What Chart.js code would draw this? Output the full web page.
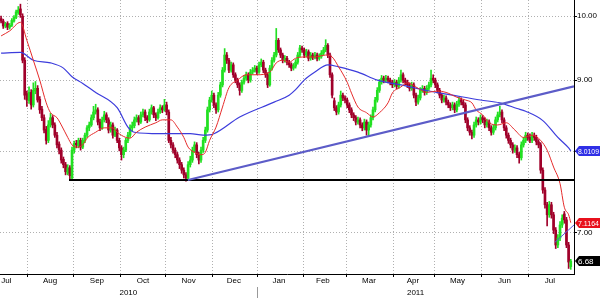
<!DOCTYPE html>
<html>
<head>
<meta charset="utf-8">
<script src="https://cdn.jsdelivr.net/npm/chart.js@4.4.1/dist/chart.umd.min.js"></script>
<style>
  html, body { margin: 0; padding: 0; background: #fff; }
</style>
</head>
<body>
<canvas id="chart" width="600" height="300"></canvas>
<script>
// daily candles, Jul 2010 .. Jul 2011 (index = trading day)
const opens = [
  9.96, 9.92, 9.84, 9.88, 9.82, 9.85, 9.92, 9.98, 10.06, 10.12,
  10.00, 9.30, 8.80, 8.70, 8.82, 8.64, 8.84, 8.88, 8.72, 8.58,
  8.46, 8.30, 8.15, 8.36, 8.46, 8.36, 8.22, 8.10, 8.02, 7.90,
  7.83, 7.72, 7.79, 7.66, 8.02, 8.11, 8.08, 8.15, 8.06, 8.15,
  8.22, 8.32, 8.36, 8.46, 8.54, 8.57, 8.40, 8.32, 8.43, 8.50,
  8.43, 8.29, 8.36, 8.22, 8.29, 8.15, 8.05, 7.96, 8.02, 8.15,
  8.22, 8.32, 8.35, 8.43, 8.46, 8.40, 8.50, 8.54, 8.46, 8.43,
  8.54, 8.60, 8.50, 8.46, 8.54, 8.60, 8.57, 8.64, 8.54, 8.15,
  8.09, 8.02, 7.96, 7.89, 7.83, 7.76, 7.70, 7.66, 7.83, 7.89,
  8.02, 8.09, 7.96, 7.89, 8.02, 8.15, 8.29, 8.57, 8.71, 8.78,
  8.64, 8.57, 8.78, 8.93, 9.15, 9.38, 9.30, 9.15, 9.23, 9.08,
  9.00, 8.93, 8.85, 8.97, 9.03, 9.08, 9.00, 9.12, 9.15, 9.18,
  9.12, 9.23, 9.27, 9.15, 9.08, 8.93, 9.18, 9.30, 9.38, 9.61,
  9.46, 9.38, 9.30, 9.33, 9.27, 9.23, 9.18, 9.21, 9.27, 9.38,
  9.49, 9.46, 9.38, 9.43, 9.33, 9.38, 9.35, 9.38, 9.33, 9.36,
  9.41, 9.46, 9.53, 9.38, 9.08, 8.70, 8.60, 8.54, 8.64, 8.78,
  8.74, 8.71, 8.64, 8.57, 8.50, 8.46, 8.40, 8.43, 8.36, 8.32,
  8.40, 8.29, 8.36, 8.46, 8.57, 8.71, 8.85, 8.97, 9.03, 9.00,
  9.03, 9.00, 8.97, 8.93, 8.97, 8.91, 9.00, 9.08, 9.00, 8.97,
  8.93, 8.88, 8.93, 8.78, 8.68, 8.74, 8.85, 8.88, 8.82, 8.88,
  8.93, 9.03, 9.00, 8.93, 8.85, 8.78, 8.71, 8.74, 8.68, 8.64,
  8.60, 8.64, 8.57, 8.65, 8.71, 8.68, 8.64, 8.43, 8.32, 8.26,
  8.22, 8.36, 8.43, 8.40, 8.46, 8.43, 8.36, 8.40, 8.32, 8.26,
  8.32, 8.43, 8.50, 8.54, 8.43, 8.32, 8.22, 8.15, 8.09, 8.02,
  8.05, 7.96, 7.92, 8.09, 8.15, 8.22, 8.19, 8.15, 8.22, 8.19,
  8.13, 8.09, 7.76, 7.51, 7.33, 7.21, 7.33, 7.21, 7.03, 6.86,
  6.94, 7.09, 7.22, 7.15, 6.86, 6.62
];
const highs = [
  10.00, 9.95, 9.90, 9.91, 9.88, 9.96, 10.01, 10.10, 10.16, 10.20,
  10.04, 9.34, 8.84, 8.90, 8.86, 8.96, 8.98, 8.92, 8.76, 8.62,
  8.50, 8.34, 8.42, 8.52, 8.49, 8.39, 8.26, 8.13, 8.05, 7.93,
  7.86, 7.83, 7.82, 8.06, 8.14, 8.15, 8.18, 8.18, 8.18, 8.25,
  8.35, 8.40, 8.50, 8.62, 8.65, 8.60, 8.44, 8.47, 8.55, 8.53,
  8.46, 8.40, 8.39, 8.33, 8.31, 8.18, 8.08, 8.06, 8.18, 8.26,
  8.36, 8.40, 8.47, 8.50, 8.49, 8.54, 8.58, 8.57, 8.49, 8.58,
  8.64, 8.62, 8.53, 8.58, 8.64, 8.63, 8.72, 8.68, 8.57, 8.19,
  8.12, 8.05, 7.99, 7.92, 7.86, 7.79, 7.73, 7.87, 7.94, 8.06,
  8.13, 8.12, 7.99, 8.06, 8.19, 8.33, 8.61, 8.75, 8.84, 8.81,
  8.67, 8.82, 8.97, 9.19, 9.48, 9.42, 9.33, 9.27, 9.26, 9.11,
  9.03, 8.96, 9.00, 9.07, 9.12, 9.11, 9.16, 9.19, 9.22, 9.21,
  9.27, 9.32, 9.30, 9.18, 9.11, 9.22, 9.34, 9.42, 9.80, 9.64,
  9.49, 9.41, 9.37, 9.36, 9.30, 9.26, 9.25, 9.31, 9.42, 9.53,
  9.52, 9.49, 9.47, 9.46, 9.42, 9.41, 9.42, 9.41, 9.40, 9.45,
  9.50, 9.62, 9.56, 9.41, 9.11, 8.74, 8.63, 8.68, 8.84, 8.81,
  8.77, 8.74, 8.67, 8.60, 8.53, 8.49, 8.47, 8.46, 8.39, 8.44,
  8.43, 8.40, 8.50, 8.61, 8.75, 8.89, 9.01, 9.07, 9.06, 9.07,
  9.06, 9.03, 9.00, 9.01, 9.00, 9.04, 9.15, 9.11, 9.03, 9.00,
  8.96, 8.97, 8.96, 8.81, 8.78, 8.89, 8.92, 8.91, 8.92, 8.97,
  9.15, 9.08, 9.03, 8.96, 8.88, 8.81, 8.78, 8.77, 8.71, 8.67,
  8.68, 8.67, 8.69, 8.75, 8.74, 8.71, 8.67, 8.46, 8.35, 8.29,
  8.40, 8.47, 8.46, 8.50, 8.49, 8.46, 8.44, 8.43, 8.35, 8.36,
  8.47, 8.54, 8.62, 8.57, 8.46, 8.35, 8.25, 8.18, 8.12, 8.09,
  8.08, 7.99, 8.13, 8.19, 8.26, 8.25, 8.24, 8.26, 8.25, 8.22,
  8.16, 8.12, 7.79, 7.54, 7.36, 7.37, 7.36, 7.24, 7.06, 6.98,
  7.13, 7.21, 7.25, 7.18, 6.89, 6.70
];
const lows = [
  9.89, 9.80, 9.81, 9.78, 9.79, 9.83, 9.90, 9.96, 10.03, 9.98,
  9.26, 8.72, 8.62, 8.66, 8.58, 8.61, 8.80, 8.68, 8.52, 8.42,
  8.25, 8.10, 8.12, 8.33, 8.32, 8.19, 8.05, 7.97, 7.85, 7.79,
  7.70, 7.70, 7.63, 7.63, 7.98, 8.05, 8.05, 8.02, 8.04, 8.12,
  8.19, 8.28, 8.34, 8.43, 8.51, 8.36, 8.28, 8.30, 8.40, 8.39,
  8.25, 8.26, 8.18, 8.20, 8.12, 8.01, 7.89, 7.92, 8.00, 8.12,
  8.19, 8.28, 8.32, 8.40, 8.36, 8.38, 8.47, 8.42, 8.39, 8.41,
  8.51, 8.46, 8.42, 8.44, 8.52, 8.53, 8.55, 8.50, 8.12, 8.05,
  7.98, 7.92, 7.85, 7.78, 7.72, 7.66, 7.62, 7.64, 7.80, 7.86,
  7.99, 7.92, 7.84, 7.86, 7.99, 8.12, 8.26, 8.54, 8.68, 8.60,
  8.52, 8.54, 8.75, 8.90, 9.12, 9.25, 9.11, 9.12, 9.04, 8.96,
  8.89, 8.78, 8.82, 8.94, 9.00, 8.96, 8.97, 9.09, 9.12, 9.08,
  9.10, 9.20, 9.11, 9.04, 8.89, 8.91, 9.15, 9.27, 9.35, 9.42,
  9.34, 9.26, 9.27, 9.23, 9.19, 9.14, 9.15, 9.18, 9.24, 9.35,
  9.42, 9.34, 9.35, 9.29, 9.30, 9.31, 9.32, 9.29, 9.30, 9.33,
  9.38, 9.43, 9.34, 9.04, 8.74, 8.56, 8.50, 8.51, 8.61, 8.70,
  8.67, 8.60, 8.53, 8.46, 8.42, 8.36, 8.37, 8.32, 8.28, 8.29,
  8.22, 8.20, 8.33, 8.43, 8.54, 8.68, 8.82, 8.94, 8.96, 8.97,
  8.96, 8.93, 8.89, 8.90, 8.87, 8.88, 8.97, 8.96, 8.93, 8.89,
  8.84, 8.85, 8.74, 8.63, 8.65, 8.71, 8.82, 8.78, 8.79, 8.85,
  8.90, 8.96, 8.89, 8.81, 8.74, 8.67, 8.68, 8.64, 8.60, 8.56,
  8.57, 8.53, 8.54, 8.62, 8.64, 8.60, 8.39, 8.28, 8.22, 8.17,
  8.19, 8.33, 8.36, 8.37, 8.39, 8.32, 8.33, 8.28, 8.22, 8.23,
  8.29, 8.40, 8.47, 8.39, 8.28, 8.18, 8.11, 8.05, 7.98, 7.99,
  7.92, 7.85, 7.89, 8.06, 8.12, 8.15, 8.12, 8.12, 8.15, 8.09,
  8.05, 7.72, 7.47, 7.29, 7.08, 7.18, 7.17, 6.99, 6.82, 6.83,
  6.91, 7.06, 7.11, 6.83, 6.60, 6.59
];
const closes = [
  9.92, 9.84, 9.87, 9.82, 9.85, 9.93, 9.98, 10.07, 10.10, 10.02,
  9.30, 8.78, 8.71, 8.82, 8.64, 8.85, 8.88, 8.71, 8.57, 8.46,
  8.29, 8.15, 8.36, 8.46, 8.36, 8.22, 8.09, 8.02, 7.89, 7.83,
  7.74, 7.79, 7.69, 8.02, 8.11, 8.09, 8.15, 8.06, 8.15, 8.22,
  8.32, 8.36, 8.46, 8.54, 8.57, 8.40, 8.32, 8.43, 8.50, 8.43,
  8.29, 8.36, 8.22, 8.29, 8.15, 8.05, 7.96, 8.02, 8.15, 8.22,
  8.32, 8.35, 8.43, 8.46, 8.40, 8.50, 8.54, 8.46, 8.43, 8.54,
  8.60, 8.50, 8.46, 8.54, 8.60, 8.57, 8.64, 8.54, 8.15, 8.09,
  8.02, 7.96, 7.89, 7.83, 7.76, 7.70, 7.66, 7.83, 7.89, 8.02,
  8.09, 7.96, 7.89, 8.02, 8.15, 8.29, 8.57, 8.71, 8.78, 8.64,
  8.57, 8.78, 8.93, 9.15, 9.38, 9.30, 9.15, 9.23, 9.08, 9.00,
  8.93, 8.85, 8.97, 9.03, 9.08, 9.00, 9.12, 9.15, 9.18, 9.12,
  9.23, 9.27, 9.15, 9.08, 8.93, 9.18, 9.30, 9.38, 9.61, 9.46,
  9.38, 9.30, 9.33, 9.27, 9.23, 9.18, 9.21, 9.27, 9.38, 9.49,
  9.46, 9.38, 9.43, 9.33, 9.38, 9.35, 9.38, 9.33, 9.36, 9.41,
  9.46, 9.53, 9.38, 9.08, 8.78, 8.60, 8.54, 8.64, 8.78, 8.74,
  8.71, 8.64, 8.57, 8.50, 8.46, 8.40, 8.43, 8.36, 8.32, 8.40,
  8.29, 8.36, 8.46, 8.57, 8.71, 8.85, 8.97, 9.03, 9.00, 9.03,
  9.00, 8.97, 8.93, 8.97, 8.91, 9.00, 9.08, 9.00, 8.97, 8.93,
  8.88, 8.93, 8.78, 8.68, 8.74, 8.85, 8.88, 8.82, 8.88, 8.93,
  9.03, 9.00, 8.93, 8.85, 8.78, 8.71, 8.74, 8.68, 8.64, 8.60,
  8.64, 8.57, 8.65, 8.71, 8.68, 8.64, 8.43, 8.32, 8.26, 8.22,
  8.36, 8.43, 8.40, 8.46, 8.43, 8.36, 8.40, 8.32, 8.26, 8.32,
  8.43, 8.50, 8.54, 8.43, 8.32, 8.22, 8.15, 8.09, 8.02, 8.05,
  7.96, 7.92, 8.09, 8.15, 8.22, 8.19, 8.15, 8.22, 8.19, 8.13,
  8.09, 7.76, 7.51, 7.33, 7.21, 7.33, 7.21, 7.03, 6.86, 6.94,
  7.09, 7.17, 7.15, 6.86, 6.67, 6.68
];

// moving averages (day index, value)
const redMaIdx = [0, 4, 9, 12, 15, 18, 21, 23, 26, 28, 31, 33, 35, 38, 40, 44, 48, 52, 54, 58,
  60, 63, 67, 72, 75, 79, 82, 85, 87, 90, 93, 95, 97, 100, 103, 106, 110, 114, 119, 125,
  128, 131, 134, 137, 141, 146, 151, 154, 157, 161, 163, 166, 170, 173, 176, 180, 182, 186, 189, 194,
  198, 203, 207, 212, 216, 219, 221, 224, 227, 231, 235, 239, 243, 247, 251, 254, 257, 260, 262, 264, 265];
const redMaVal = [9.68, 9.76, 9.90, 9.61, 9.30, 9.00, 8.67, 8.53, 8.46, 8.36, 8.19, 8.09, 8.06, 8.09, 8.18, 8.26, 8.32, 8.32, 8.26, 8.19,
  8.18, 8.26, 8.33, 8.39, 8.43, 8.43, 8.33, 8.19, 8.06, 7.99, 7.96, 7.99, 8.15, 8.33, 8.61, 8.89, 9.00, 9.08, 9.08, 9.12,
  9.26, 9.30, 9.27, 9.33, 9.35, 9.35, 9.38, 9.35, 9.20, 8.97, 8.81, 8.61, 8.53, 8.47, 8.53, 8.67, 8.81, 8.90, 8.96, 8.88,
  8.82, 8.84, 8.82, 8.75, 8.71, 8.67, 8.57, 8.50, 8.39, 8.36, 8.39, 8.29, 8.19, 8.22, 8.15, 8.02, 7.80, 7.59, 7.30, 7.21, 7.1164];
const blueMaIdx = [0, 9, 15, 23, 29, 33, 38, 44, 54, 59, 62, 74, 88, 94, 99, 111, 127, 134, 137, 141,
  146, 152, 157, 166, 175, 179, 186, 199, 210, 223, 232, 240, 244, 252, 259, 264, 265];
const blueMaVal = [9.41, 9.42, 9.30, 9.26, 9.18, 9.05, 8.95, 8.82, 8.60, 8.33, 8.26, 8.24, 8.24, 8.22, 8.24, 8.47, 8.68, 8.78, 8.86, 9.00,
  9.12, 9.23, 9.20, 9.12, 9.00, 8.97, 8.93, 8.84, 8.78, 8.71, 8.67, 8.59, 8.55, 8.42, 8.19, 8.05, 8.0109];

// drawn trend lines: [start, end]
const supportX = [31.6, 266.5];
const supportY = [7.635, 7.635];
const trendX = [86.9, 266.5];
const trendY = [7.635, 8.91];
const shortTrendX = [257.6, 266.5];
const shortTrendY = [6.89, 7.09];

// axis labels
const monthNames = ['Jul', 'Aug', 'Sep', 'Oct', 'Nov', 'Dec', 'Jan', 'Feb', 'Mar', 'Apr', 'May', 'Jun', 'Jul'];
const monthLabelPos = [2.5, 22.8, 44.6, 66, 87.2, 108.3, 129.3, 149.7, 171.1, 191.6, 212.3, 234.2, 255.3];
const monthBounds = [12.5, 33.5, 55.5, 76.5, 98.5, 119.5, 140.5, 160.5, 182.5, 201.5, 223.5, 245.5];
const yearNames = ['2010', '2011'];
const yearLabelPos = [59.2, 192.8];
const yearBreak = [119.5];
const priceTicks = [7, 8, 9, 10];
const tagValues = [8.0109, 7.1164, 6.68];

const FONT = "'Liberation Sans Narrow', 'Arial Narrow', 'Liberation Sans', Arial, sans-serif";
const GREEN = '#22e022';
const RED = '#a0002a';
const TAG_COLORS = ['#2f2fe6', '#e8101c', '#000000'];

const up = i => closes[i] >= opens[i];
const candleColor = c => up(c.dataIndex) ? GREEN : RED;
const days = closes.map((_, i) => i);

const xTicks = monthBounds.map(v => ({ value: v, label: '' }))
  .concat(monthLabelPos.map((v, i) => ({ value: v, label: monthNames[i] })))
  .sort((a, b) => a.value - b.value);
const yearTicks = yearLabelPos.map((v, i) => ({ value: v, label: yearNames[i] }))
  .concat(yearBreak.map(v => ({ value: v, label: '' })))
  .sort((a, b) => a.value - b.value);

const isBound = c => !!(c.tick && monthBounds.includes(c.tick.value));
const clear = 'rgba(0,0,0,0)';
const tickFont = { family: FONT, size: 8 };

// coloured last-value tags on the right axis
const priceTags = {
  id: 'priceTags',
  afterDraw(chart) {
    const { ctx, chartArea, scales } = chart;
    tagValues.forEach((v, k) => {
      const py = Math.round(scales.y.getPixelForValue(v));
      const x0 = chartArea.right + 1;
      ctx.save();
      ctx.fillStyle = TAG_COLORS[k];
      ctx.beginPath();
      ctx.moveTo(x0, py);
      ctx.lineTo(x0 + 4, py - 5);
      ctx.lineTo(chart.width, py - 5);
      ctx.lineTo(chart.width, py + 5);
      ctx.lineTo(x0 + 4, py + 5);
      ctx.closePath();
      ctx.fill();
      ctx.fillStyle = '#fff';
      ctx.font = `8px ${FONT}`;
      ctx.textAlign = 'left';
      ctx.textBaseline = 'middle';
      const w = ctx.measureText(String(v)).width;
      const room = chart.width - (x0 + 3) - 1;
      ctx.translate(x0 + 3, py + 0.5);
      if (w > room) ctx.scale(room / w, 1);
      ctx.fillText(String(v), 0, 0);
      ctx.restore();
    });
  }
};

new Chart(document.getElementById('chart'), {
  type: 'bar',
  data: {
    datasets: [
      { type: 'line', data: shortTrendX.map((x, i) => ({ x, y: shortTrendY[i] })), borderColor: '#5a5ae0', borderWidth: 1, pointRadius: 0, order: 0 },
      { type: 'line', data: trendX.map((x, i) => ({ x, y: trendY[i] })), borderColor: '#5c5cc8', borderWidth: 2.2, pointRadius: 0, order: 1 },
      { type: 'line', data: supportX.map((x, i) => ({ x, y: supportY[i] })), borderColor: '#000', borderWidth: 2, pointRadius: 0, order: 2 },
      { type: 'line', data: redMaIdx.map((x, i) => ({ x, y: redMaVal[i] })), borderColor: '#e52b2b', borderWidth: 1, pointRadius: 0, cubicInterpolationMode: 'monotone', order: 3 },
      { type: 'line', data: blueMaIdx.map((x, i) => ({ x, y: blueMaVal[i] })), borderColor: '#3c3cdc', borderWidth: 1.2, pointRadius: 0, cubicInterpolationMode: 'monotone', order: 4 },
      { data: days.map(i => ({ x: i, y: [opens[i], closes[i]] })), barThickness: 2, minBarLength: 1, grouped: false, backgroundColor: candleColor, order: 5 },
      { data: days.map(i => ({ x: i, y: [lows[i], highs[i]] })), barThickness: 1, grouped: false, backgroundColor: candleColor, order: 6 }
    ]
  },
  options: {
    responsive: false,
    animation: false,
    events: [],
    layout: { padding: 0 },
    plugins: { legend: { display: false }, tooltip: { enabled: false } },
    scales: {
      x: {
        type: 'linear', position: 'bottom', weight: 0, min: -0.5, max: 266.5, bounds: 'data', offset: false,
        afterBuildTicks: s => { s.ticks = xTicks.map(t => ({ value: t.value })); },
        afterFit: s => { s.height = 13; s.paddingLeft = 0; s.paddingRight = 0; },
        grid: { offset: false, color: c => isBound(c) ? '#b0b0b0' : clear, tickColor: c => isBound(c) ? '#000' : clear, tickLength: 3 },
        border: { color: '#000', dash: [1, 2] },
        ticks: { autoSkip: false, maxRotation: 0, minRotation: 0, padding: -1, font: tickFont, color: '#000',
          callback: (v, i) => xTicks[i] ? xTicks[i].label : '' }
      },
      xy: {
        type: 'linear', position: 'bottom', weight: 1, min: -0.5, max: 266.5, bounds: 'data', offset: false,
        afterBuildTicks: s => { s.ticks = yearTicks.map(t => ({ value: t.value })); },
        afterFit: s => { s.height = 13; s.paddingLeft = 0; s.paddingRight = 0; },
        grid: { drawOnChartArea: false, offset: false, color: clear,
          tickColor: c => (c.tick && yearBreak.includes(c.tick.value)) ? '#999' : clear, tickLength: 11 },
        border: { display: false },
        ticks: { autoSkip: false, maxRotation: 0, minRotation: 0, padding: -10, font: tickFont, color: '#000',
          callback: (v, i) => yearTicks[i] ? yearTicks[i].label : '' }
      },
      y: {
        type: 'logarithmic', position: 'right', min: 6.54, max: 10.27,
        afterBuildTicks: s => { s.ticks = priceTicks.map(v => ({ value: v })); },
        afterFit: s => { s.width = 26; s.paddingTop = 0; s.paddingBottom = 0; },
        grid: { color: '#b0b0b0', tickColor: '#000', tickLength: 3 },
        border: { color: '#000', dash: [1, 2] },
        ticks: { autoSkip: false, padding: 0, font: tickFont, color: '#000', callback: v => Number(v).toFixed(2) }
      }
    }
  },
  plugins: [priceTags]
});
</script>
</body>
</html>
